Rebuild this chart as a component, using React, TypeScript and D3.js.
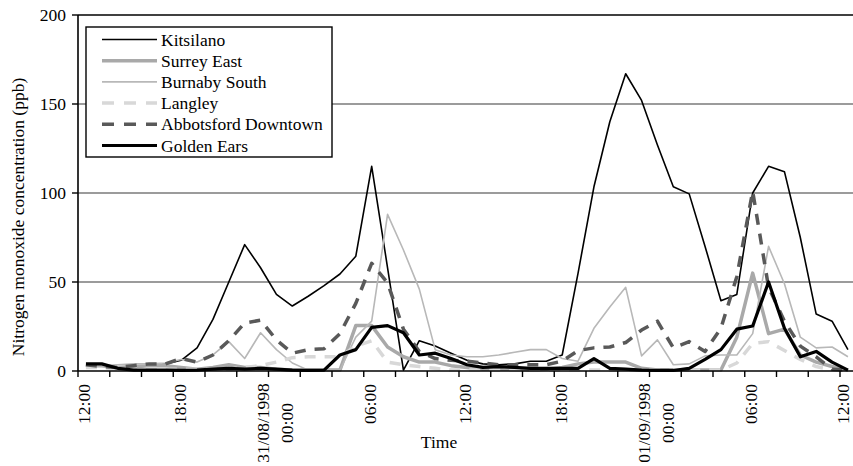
import React from "react";
import * as d3 from "d3";

const categories = [
  "12:00", "13:00", "14:00", "15:00", "16:00", "17:00", "18:00", "19:00", "20:00", "21:00", "22:00", "23:00",
  "31/08/1998 00:00", "01:00", "02:00", "03:00", "04:00", "05:00", "06:00", "07:00", "08:00", "09:00", "10:00", "11:00",
  "12:00", "13:00", "14:00", "15:00", "16:00", "17:00", "18:00", "19:00", "20:00", "21:00", "22:00", "23:00",
  "01/09/1998 00:00", "01:00", "02:00", "03:00", "04:00", "05:00", "06:00", "07:00", "08:00", "09:00", "10:00", "11:00",
  "12:00",
];

const kitsilano = [3, 3, 2, 2, 3, 4, 6, 13, 29, 50, 71, 58, 43, 36.5, 42, 48, 54.5, 64.5, 115, 58, 0.5, 17, 14, 10, 6, 4, 3.5, 4, 5.5, 5.5, 9, 55, 103.5, 140, 167, 152, 127, 103.5, 99.5, 70, 39.5, 43, 100, 115, 112, 75, 32, 28, 12];
const surreyEast = [3, 3, 2, 2.5, 3, 3, 2, 1, 2, 3.5, 2, 2, 1, 0.5, 0.5, 0.5, 0.5, 25.5, 25.5, 13.5, 8, 5, 5, 3, 2, 1, 1, 1, 0.5, 1, 2, 4, 5, 5, 5, 1.5, 0.5, 0.5, 0.5, 0.5, 0.5, 19, 55, 21, 23.5, 9, 5, 2.5, 0.5];
const burnabySouth = [2.5, 3, 3.5, 4, 4, 4.5, 6.5, 5, 9, 16.5, 7, 21.5, 12, 4.5, 0.5, 0.5, 0.5, 19, 28, 88, 68, 46, 12, 9, 8, 8, 9, 10.5, 12, 12, 7, 5.5, 24, 36, 47, 8.5, 17.5, 3.5, 4, 8.5, 9, 9, 21, 70, 49, 19, 13, 13.5, 8];
const langley = [2, 2, 1, 1, 1, 1, 1, 1, 1, 1, 2, 3, 5, 7.5, 8, 8, 8, 14, 17, 5, 3.5, 2.5, 1.5, 0.5, 0.5, 0.5, 0.5, 0.5, 0.5, 0.5, 0.5, 0.5, 0.5, 0.5, 0.5, 0.5, 0.5, 0.5, 0.5, 0.5, 0.5, 4.5, 15.5, 16.5, 11.5, 6.5, 2.5, 0.5, 0.5];
const abbotsfordDowntown = [3.5, 2.5, 2, 3, 4, 4, 7, 5, 9, 17, 27, 28.5, 17.5, 10, 12, 12.5, 21, 38, 60.5, 49.5, 23.5, 11, 7, 6, 5.5, 4.5, 3.5, 3.5, 3.5, 3.5, 5.5, 11.5, 13, 13.5, 16, 23, 28, 13, 16.5, 11, 24, 53, 101, 47, 28, 14, 8, 1, 0.5];
const goldenEars = [4, 4, 1.5, 0.5, 0.5, 0.5, 0.3, 0.5, 1, 1.5, 1, 1.5, 1, 0.5, 0.3, 0.5, 9, 12, 24.5, 25.5, 21.5, 9, 10, 7, 3.5, 2, 2.5, 2, 1.5, 1.5, 1.5, 1.5, 7, 1.5, 1, 0.5, 0.3, 0.3, 1.5, 6.5, 12, 23.5, 25.3, 50, 24, 8, 11, 5, 0.5];

const seriesNames = ["Kitsilano", "Surrey East", "Burnaby South", "Langley", "Abbotsford Downtown", "Golden Ears"];
const seriesValues = [kitsilano, surreyEast, burnabySouth, langley, abbotsfordDowntown, goldenEars];

const yTicks = [0, 50, 100, 150, 200];
const yTitle = "Nitrogen monoxide concentration (ppb)";
const xTitle = "Time";

const styles = [
  { color: "#000000", width: 1.6, dash: "" },
  { color: "#a9a9a9", width: 3.5, dash: "" },
  { color: "#b8b8b8", width: 1.6, dash: "" },
  { color: "#d8d8d8", width: 3.5, dash: "11,9" },
  { color: "#595959", width: 3.5, dash: "11,9" },
  { color: "#000000", width: 3.2, dash: "" },
];

const W = 853;
const H = 466;
const FONT = "'Liberation Serif', 'Times New Roman', serif";
const FS = 17.5;

export default function App() {
  const left = 78;
  const top = 15;
  const bottom = 371;
  const band = 15.875;
  const right = left + categories.length * band;

  const x = d3.scaleBand<number>().domain(d3.range(categories.length)).range([left, right]).padding(0);
  const cx = (i: number) => (x(i) as number) + x.bandwidth() / 2;
  const y = d3.scaleLinear().domain([0, 200]).range([bottom, top]);
  const line = d3.line<number>().x((_, i) => cx(i)).y((d) => y(d));

  const tickIdx = d3.range(0, categories.length + 1, 2);

  const legendX = 86;
  const legendY = 27;
  const legendW = 246;
  const legendH = 130;
  const rowH = 21.2;

  return (
    <svg width={W} height={H} style={{ position: "absolute", left: 0, top: 0, background: "#fff" }} fontFamily={FONT}>
      <rect x={0} y={0} width={W} height={H} fill="#fff" />
      {yTicks.filter((t) => t > 0 && t < 200).map((t) => (
        <line key={t} x1={left} x2={right} y1={y(t)} y2={y(t)} stroke="#7a7a7a" strokeWidth={1.4} />
      ))}
      <line x1={left} x2={right} y1={y(200)} y2={y(200)} stroke="#000" strokeWidth={1.6} />
      {seriesValues.map((vals, s) => (
        <path
          key={seriesNames[s]}
          d={line(vals) as string}
          fill="none"
          stroke={styles[s].color}
          strokeWidth={styles[s].width}
          strokeDasharray={styles[s].dash || undefined}
          strokeLinejoin="round"
        />
      ))}
      <line x1={left} x2={left} y1={top} y2={bottom} stroke="#000" strokeWidth={1.6} />
      <line x1={left} x2={right} y1={bottom} y2={bottom} stroke="#000" strokeWidth={1.6} />
      {yTicks.map((t) => (
        <g key={t}>
          <line x1={left - 6} x2={left} y1={y(t)} y2={y(t)} stroke="#000" strokeWidth={1.4} />
          <text x={66} y={y(t) + 6} textAnchor="end" fontSize={FS}>{t}</text>
        </g>
      ))}
      {tickIdx.map((i) => {
        const xx = i < categories.length ? (x(i) as number) : right;
        return <line key={i} x1={xx} x2={xx} y1={bottom} y2={bottom + 6} stroke="#000" strokeWidth={1.4} />;
      })}
      {categories.map((c, i) => {
        if (i % 6 !== 0) return null;
        const lines = c.split(" ");
        const px = cx(i);
        if (lines.length === 1) {
          const bx = Math.min(px + 4.5, W - 4.5);
          return (
            <text key={i} transform={`translate(${bx},${bottom + 13}) rotate(-90)`} textAnchor="end" fontSize={FS}>
              {c}
            </text>
          );
        }
        return (
          <g key={i}>
            {lines.map((l, k) => (
              <text
                key={k}
                transform={`translate(${px - 7 + k * 24},${bottom + 52}) rotate(-90)`}
                textAnchor="middle"
                fontSize={FS}
              >
                {l}
              </text>
            ))}
          </g>
        );
      })}
      <text x={439} y={448} textAnchor="middle" fontSize={FS}>{xTitle}</text>
      <text transform={`translate(24,217) rotate(-90)`} textAnchor="middle" fontSize={FS}>{yTitle}</text>
      <rect x={legendX} y={legendY} width={legendW} height={legendH} fill="#fff" stroke="#000" strokeWidth={1.4} />
      {seriesNames.map((n, s) => {
        const ly = 39.5 + s * rowH;
        return (
          <g key={n}>
            <line
              x1={102}
              x2={157}
              y1={ly}
              y2={ly}
              stroke={styles[s].color}
              strokeWidth={styles[s].width}
              strokeDasharray={styles[s].dash ? "12,10" : undefined}
            />
            <text x={161} y={ly + 6} fontSize={FS}>{n}</text>
          </g>
        );
      })}
    </svg>
  );
}
